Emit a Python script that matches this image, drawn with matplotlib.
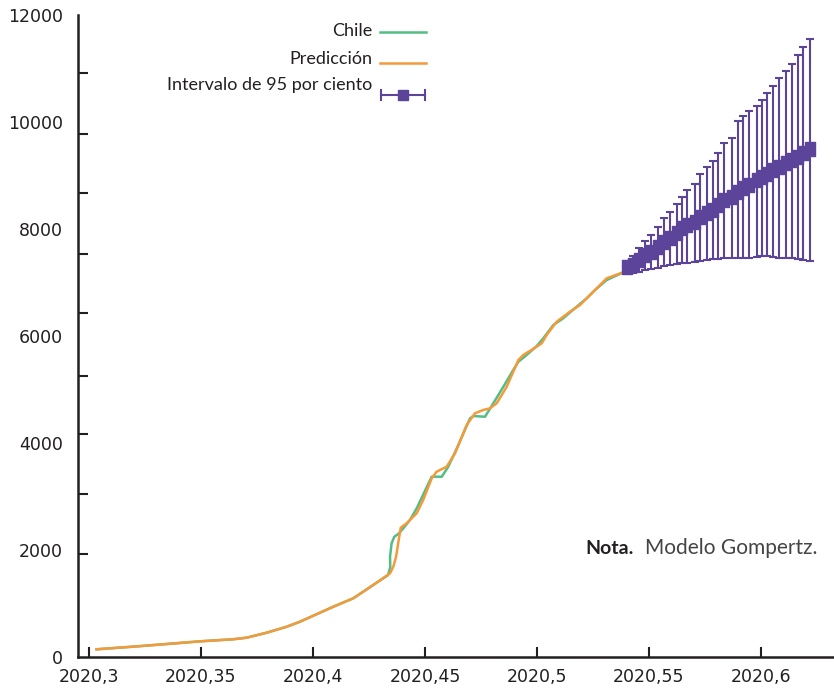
import numpy as np
import matplotlib
matplotlib.use("Agg")
from matplotlib import pyplot as plt
from matplotlib.lines import Line2D

# Chile confirmed cases and Gompertz fit
chile_x = [2020.3034, 2020.3196, 2020.3348, 2020.3496, 2020.3643, 2020.3704, 2020.3793,
           2020.3883, 2020.3942, 2020.4091, 2020.4180, 2020.4269, 2020.4335, 2020.4345,
           2020.4344, 2020.4351, 2020.4363, 2020.4381, 2020.4403, 2020.4433, 2020.4463,
           2020.4530, 2020.4552, 2020.4575, 2020.4604, 2020.4649, 2020.4701, 2020.4716,
           2020.4768, 2020.4805, 2020.4850, 2020.4894, 2020.4917, 2020.4954, 2020.4999,
           2020.5028, 2020.5073, 2020.5117, 2020.5177, 2020.5222, 2020.5259, 2020.5311,
           2020.5385]
chile_y = [144, 193, 243, 293, 331, 361, 454,
           566, 660, 940, 1097, 1346, 1530, 1680,
           1875, 2125, 2248, 2299, 2405, 2561, 2779,
           3370, 3370, 3370, 3557, 3962, 4461, 4504,
           4491, 4742, 5052, 5364, 5519, 5645, 5813,
           5957, 6205, 6330, 6547, 6704, 6859, 7046,
           7190]

pred_x = [2020.3034, 2020.3196, 2020.3348, 2020.3496, 2020.3643, 2020.3704, 2020.3793,
          2020.3883, 2020.3942, 2020.4091, 2020.4180, 2020.4269, 2020.4344, 2020.4359,
          2020.4371, 2020.4385, 2020.4392, 2020.4418, 2020.4463, 2020.4492, 2020.4530,
          2020.4552, 2020.4597, 2020.4634, 2020.4686, 2020.4723, 2020.4760, 2020.4790,
          2020.4820, 2020.4865, 2020.4917, 2020.4939, 2020.4999, 2020.5021, 2020.5043,
          2020.5088, 2020.5147, 2020.5192, 2020.5259, 2020.5311, 2020.5385]
pred_y = [144, 193, 243, 293, 331, 361, 454,
          566, 660, 940, 1097, 1346, 1564, 1692,
          1875, 2248, 2417, 2499, 2686, 2934, 3340,
          3463, 3557, 3807, 4336, 4555, 4617, 4648,
          4742, 5052, 5551, 5645, 5800, 5863, 6018,
          6267, 6454, 6579, 6859, 7078, 7190]

# forecast with 95% interval
fc_x = [2020.5400, 2020.5430, 2020.5457, 2020.5482, 2020.5508, 2020.5542, 2020.5568,
        2020.5594, 2020.5624, 2020.5646, 2020.5671, 2020.5705, 2020.5728, 2020.5759,
        2020.5786, 2020.5808, 2020.5835, 2020.5869, 2020.5896, 2020.5921, 2020.5948,
        2020.5981, 2020.6006, 2020.6028, 2020.6052, 2020.6082, 2020.6112, 2020.6137,
        2020.6164, 2020.6189, 2020.6219]
fc_mid = [7295, 7327, 7421, 7514, 7576, 7669, 7763, 7826, 7920, 8013, 8075,
          8137, 8230, 8294, 8355, 8449, 8542, 8604, 8697, 8761, 8823,
          8916, 8978, 9028, 9103, 9165, 9240, 9290, 9352, 9415, 9490]
fc_hi = [7402, 7495, 7645, 7776, 7888, 8038, 8206, 8318, 8467, 8604, 8729,
         8841, 9028, 9165, 9266, 9415, 9608, 9701, 10013, 10107, 10210,
         10303, 10411, 10548, 10679, 10817, 10959, 11092, 11247, 11397, 11548]
fc_lo = [7172, 7183, 7202, 7234, 7252, 7277, 7308, 7327, 7346, 7359, 7359,
         7389, 7402, 7421, 7434, 7439, 7464, 7464, 7452, 7458, 7458,
         7482, 7495, 7495, 7482, 7464, 7452, 7452, 7434, 7421, 7408]

xticks = [2020.3, 2020.35, 2020.4, 2020.45, 2020.5, 2020.55, 2020.6]
xtick_labels = ["2020,3", "2020,35", "2020,4", "2020,45", "2020,5", "2020,55", "2020,6"]
yticks = [0, 2000, 4000, 6000, 8000, 10000, 12000]
ytick_marks = [1925, 3047, 4168, 5252, 6430, 7533, 8673, 9776, 10916, 12000]

green = "#52bd85"
orange = "#f59a3a"
purple = "#5c449b"
dark = "#231f20"

W, H = 834, 689
fig = plt.figure(figsize=(W / 100, H / 100), dpi=100)
ax = fig.add_axes([78 / W, 32 / H, 756 / W, 642 / H])

ax.plot(chile_x, chile_y, color=green, lw=1.8, zorder=2)
ax.plot(pred_x, pred_y, color=orange, lw=1.8, zorder=3)

yerr = [np.array(fc_mid) - np.array(fc_lo), np.array(fc_hi) - np.array(fc_mid)]
box = [(-0.35, -0.5), (0.35, -0.5), (0.35, 0.5), (-0.35, 0.5), (-0.35, -0.5)]
ax.errorbar(fc_x, fc_mid, yerr=yerr, fmt="none", ecolor=purple, elinewidth=1.5,
            capsize=3, capthick=1.5, zorder=4)
ax.plot(fc_x, fc_mid, ls="none", marker=box, ms=9.5, color=purple, zorder=5)

ax.set_xlim(2020.2951, 2020.6326)
ax.set_ylim(0, 12000)
for s in ["top", "right"]:
    ax.spines[s].set_visible(False)
for s in ["left", "bottom"]:
    ax.spines[s].set_linewidth(1.8)
    ax.spines[s].set_color(dark)

ax.set_xticks(xticks)
ax.set_xticklabels(xtick_labels)
ax.set_yticks(yticks)
ax.set_yticklabels([str(v) for v in yticks])
for lab in ax.get_xticklabels() + ax.get_yticklabels():
    lab.set_fontfamily(["DejaVu Sans"])
    lab.set_fontsize(12.5)
    lab.set_color(dark)
ax.tick_params(axis="x", direction="in", length=7, width=1.5, color=dark, pad=8)
ax.set_yticks(ytick_marks, minor=True)
ax.tick_params(axis="y", which="major", length=0, pad=11)
ax.tick_params(axis="y", which="minor", direction="in", length=7, width=1.5, color=dark)

# legend, drawn by hand so the labels sit right-aligned next to the keys
def fx(px):
    return px / W

def fy(py):
    return 1 - py / H

leg_font = dict(family="Lato", size=13, color=dark, ha="right", va="center")
fig.text(fx(372), fy(31), "Chile", **leg_font)
fig.text(fx(372), fy(59), "Predicción", **leg_font)
fig.text(fx(372), fy(85), "Intervalo de 95 por ciento", **leg_font)
fig.add_artist(Line2D([fx(380), fx(426)], [fy(32), fy(32)], color=green, lw=1.8))
fig.add_artist(Line2D([fx(380), fx(426)], [fy(63), fy(63)], color=orange, lw=1.8))
fig.add_artist(Line2D([fx(381), fx(425)], [fy(95), fy(95)], color=purple, lw=1.5))
for cx in [381, 425]:
    fig.add_artist(Line2D([fx(cx), fx(cx)], [fy(90), fy(100)], color=purple, lw=1.5))
fig.add_artist(Line2D([fx(403)], [fy(95)], marker="s", ms=7.5, color=purple, ls="none"))

fig.text(fx(585), fy(548), "Nota.", family="Lato", size=14, color=dark,
         weight="bold", va="center")
fig.text(fx(645), fy(548), "Modelo Gompertz.", family="Lato", size=15, color="#444444",
         weight="normal", va="center")

fig.savefig("out.png", dpi=100)
